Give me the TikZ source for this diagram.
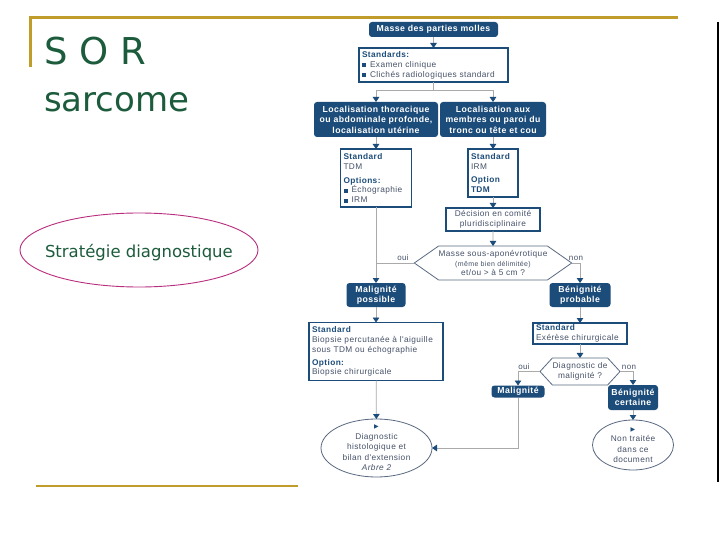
\documentclass[tikz,border=0pt]{standalone}
\usepackage{fontspec}
\setmainfont{Liberation Sans}
\newfontfamily\flowfont{Liberation Sans}[LetterSpace=5]
\newfontfamily\titlefont{DejaVu Sans}
\usetikzlibrary{arrows.meta,shapes.symbols,shapes.geometric}
\definecolor{navy}{RGB}{28,76,122}
\definecolor{gold}{RGB}{192,156,42}
\definecolor{tgreen}{RGB}{28,92,60}
\definecolor{magentaline}{RGB}{185,45,125}
\definecolor{linegray}{RGB}{170,170,170}
\definecolor{bodytext}{RGB}{70,82,105}
\definecolor{hexline}{RGB}{90,105,130}
\newcommand{\bul}{\textcolor{navy}{\rule[0.3pt]{4pt}{3.4pt}}\hspace{4pt}}
\newcommand{\hd}[1]{\textcolor{navy}{\bfseries #1}}
\begin{document}
\begin{tikzpicture}[x=1pt,y=-1pt,
  every node/.style={inner sep=0pt, outer sep=0pt},
  darkbox/.style={fill=navy, rounded corners=3pt, text=white,
    font=\flowfont\bfseries\fontsize{8.7}{10.4}\selectfont, align=center},
  whitebox/.style={draw=navy, line width=1.1pt, fill=white, text=bodytext,
    font=\flowfont\fontsize{8.3}{9.9}\selectfont, align=left},
  plainbox/.style={draw=navy, line width=1.1pt, fill=white, text=bodytext,
    font=\flowfont\fontsize{8.3}{10}\selectfont, align=center},
  hexa/.style={signal, signal to=west and east, draw=hexline, line width=0.8pt,
    fill=white, text=bodytext, font=\flowfont\fontsize{8.3}{9.6}\selectfont, align=center},
  ell/.style={ellipse, draw=hexline, line width=0.8pt, fill=white, text=bodytext,
    font=\flowfont\fontsize{8.3}{10.5}\selectfont, align=center},
  conn/.style={draw=linegray, line width=0.8pt},
  arr/.style={conn, -{Triangle[width=6.5pt,length=5pt,color=navy]}},
  lbl/.style={text=bodytext, font=\flowfont\fontsize{8}{9}\selectfont},
  ttl/.style={text=tgreen, anchor=base west},
]
\useasboundingbox (0,0) rectangle (720,540);
\fill[white] (0,0) rectangle (720,540);

% frame decorations
\draw[gold, line width=3pt] (29,18) -- (678,18);
\draw[gold, line width=3pt] (30.5,16.5) -- (30.5,67);
\draw[gold, line width=2.5pt] (36,486) -- (298,486);
\draw[black, line width=2pt] (717.5,22) -- (717.5,482);

% titles
\node[ttl, font=\titlefont\fontsize{37}{40}\selectfont] (t1) at (44,65) {S O R};
\node[ttl, font=\titlefont\fontsize{34}{38}\selectfont] (t2) at (44,112) {sarcome};
\node[ellipse, draw=magentaline, line width=0.9pt, minimum width=238, minimum height=74] (se) at (139,250) {};
\node[ttl, font=\titlefont\fontsize{16.5}{18}\selectfont] (st) at (45,257) {Stratégie diagnostique};

% flowchart nodes
\node[darkbox, minimum width=129, minimum height=15] (b1) at (433.5,29.5) {Masse des parties molles};
\node[whitebox, text width=143, inner xsep=3pt, minimum height=34] (b2) at (433.5,65)
  {\hd{Standards:}\\ \bul Examen clinique\\ \bul Clichés radiologiques standard};
\node[darkbox, minimum width=124, minimum height=35] (b3) at (376,119.5)
  {Localisation thoracique\\ ou abdominale profonde,\\ localisation utérine};
\node[darkbox, minimum width=106, minimum height=35] (b4) at (493,119.5)
  {Localisation aux\\ membres ou paroi du\\ tronc ou tête et cou};
\node[whitebox, text width=65, inner xsep=3pt, minimum height=58] (b5) at (376,178)
  {\hd{Standard}\\ TDM\\[4pt] \hd{Options:}\\ \bul Échographie\\ \bul IRM};
\node[whitebox, text width=44, inner xsep=3pt, minimum height=48] (b6) at (493,173)
  {\hd{Standard}\\ IRM\\[4pt] \hd{Option}\\ \hd{TDM}};
\node[plainbox, minimum width=94, minimum height=23] (b7) at (493,219.5)
  {Décision en comité\\ pluridisciplinaire};
\node[hexa, signal pointer angle=70, minimum width=152, minimum height=34] (h1) at (493,263)
  {Masse sous-aponévrotique\\ {\fontsize{7}{8}\selectfont (même bien délimitée)}\\ et/ou > à 5 cm ?};
\node[darkbox, minimum width=59, minimum height=24] (m1) at (376,295) {Malignité\\ possible};
\node[darkbox, minimum width=61, minimum height=24] (bp) at (580,295) {Bénignité\\ probable};
\node[whitebox, text width=128, inner xsep=3pt, minimum height=58] (b8) at (376,351.5)
  {\hd{Standard}\\ Biopsie percutanée à l'aiguille\\ sous TDM ou échographie\\[3pt] \hd{Option:}\\ Biopsie chirurgicale};
\node[whitebox, text width=88, inner xsep=3pt, minimum height=21] (b9) at (580,333.5)
  {\hd{Standard}\\ Exérèse chirurgicale};
\node[hexa, signal pointer angle=95, minimum width=80, minimum height=27] (h2) at (580,371.5)
  {Diagnostic de\\ malignité ?};
\node[darkbox, minimum width=53, minimum height=12] (mg) at (518,391.5) {Malignité};
\node[darkbox, minimum width=50, minimum height=25] (bc) at (633,397.5) {Bénignité\\ certaine};
\node[ell, inner ysep=-6pt, minimum width=111, minimum height=58] (e1) at (376.5,448)
  {{\titlefont\fontsize{6}{6}\selectfont\textcolor{navy}{▶}}\\ Diagnostic\\ histologique et\\ bilan d'extension\\ {\itshape Arbre 2}};
\node[ell, inner ysep=-5pt, minimum width=81, minimum height=50] (e2) at (633,445)
  {{\titlefont\fontsize{6}{6}\selectfont\textcolor{navy}{▶}}\\ Non traitée\\ dans ce\\ document};

% connectors
\coordinate (sp) at (433.5,90);
\draw[arr] (b1) -- (b2);
\draw[conn] (b2) -- (sp);
\draw[arr] (sp) -| (b3);
\draw[arr] (sp) -| (b4);
\draw[arr] (b3) -- (b5);
\draw[arr] (b4) -- (b6);
\draw[arr] (b6) -- (b7);
\draw[arr] (b7) -- (h1);
\draw[arr] (b5) -- (m1);
\draw[conn] (h1.west) -- (h1.west -| m1);
\draw[arr] (h1.east) -| (bp);
\draw[arr] (m1) -- (b8);
\draw[arr] (bp) -- (b9);
\draw[arr] (b9) -- (h2);
\draw[arr] (h2.west) -| (mg);
\draw[arr] (h2.east) -| (bc);
\draw[arr] (b8) -- (e1);
\draw[arr] (mg) |- (e1);
\draw[arr] (bc) -- (e2);

% labels
\node[lbl] (oui1) at (403,258) {oui};
\node[lbl] (non1) at (576,258) {non};
\node[lbl] (oui2) at (524,367) {oui};
\node[lbl] (non2) at (629,367) {non};
\end{tikzpicture}
\end{document}
